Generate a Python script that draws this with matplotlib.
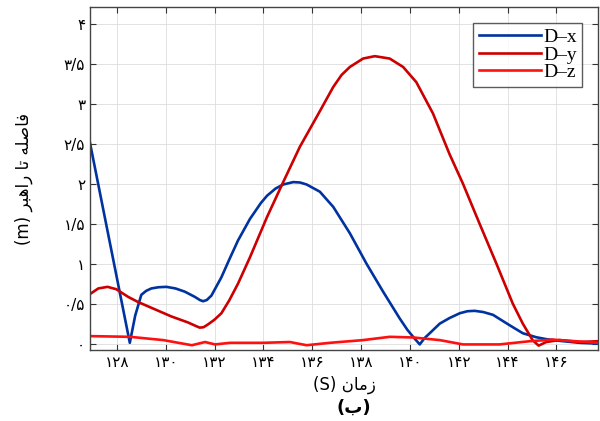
import numpy as np
import matplotlib
matplotlib.use('Agg')
from matplotlib import pyplot as plt
from matplotlib.ticker import FuncFormatter

# D-x (blue)
dx_t = [126.9, 128.53, 128.75, 129.0, 129.2, 129.41, 129.7, 130.03, 130.4, 130.78, 131.19, 131.4,
        131.53, 131.68, 131.87, 132.28, 132.6, 132.96, 133.45, 133.9, 134.15, 134.5,
        134.81, 135.22, 135.5, 135.77, 136.31, 136.86, 137.54, 138.22, 138.9, 139.58, 139.9,
        140.13, 140.4, 140.6, 140.81, 141.22, 141.62, 142.04, 142.35, 142.65, 143.0, 143.4,
        144.08, 144.62, 145.17, 145.6, 146.12, 146.94, 147.7]
dx_v = [2.51, 0.01, 0.35, 0.61, 0.66, 0.69, 0.705, 0.71, 0.69, 0.65, 0.585, 0.545,
        0.53, 0.545, 0.6, 0.83, 1.05, 1.29, 1.56, 1.76, 1.85, 1.94,
        1.99, 2.02, 2.015, 1.99, 1.90, 1.71, 1.38, 1.00, 0.65, 0.315, 0.17,
        0.085, -0.01, 0.07, 0.13, 0.25, 0.32, 0.38, 0.405, 0.41, 0.395, 0.36,
        0.23, 0.13, 0.08, 0.055, 0.035, 0.01, 0.0]

# D-y (dark red)
dy_t = [126.9, 127.24, 127.62, 127.98, 128.46, 128.87, 129.55, 130.23, 130.91, 131.2, 131.39,
        131.55, 131.73, 132.0, 132.28, 132.6, 132.96, 133.45, 134.15, 134.81, 135.49,
        136.18, 136.86, 137.2, 137.54, 138.08, 138.56, 139.17, 139.72, 140.26, 140.94, 141.62,
        142.17, 142.85, 143.54, 144.21, 144.62, 145.03, 145.27, 145.58, 146.12, 146.94, 147.7]
dy_v = [0.62, 0.69, 0.71, 0.68, 0.585, 0.52, 0.43, 0.34, 0.265, 0.225, 0.20,
        0.205, 0.24, 0.3, 0.38, 0.54, 0.75, 1.08, 1.585, 2.02, 2.46,
        2.835, 3.21, 3.36, 3.46, 3.565, 3.595, 3.565, 3.46, 3.27, 2.88, 2.37,
        2.0, 1.50, 1.00, 0.50, 0.25, 0.04, -0.025, 0.02, 0.045, 0.02, 0.03]

# D-z (bright red)
dz_t = [126.9, 128.54, 129.9, 131.07, 131.61, 132.02, 132.63, 133.99, 135.08, 135.77,
        136.72, 138.08, 139.17, 140.13, 141.22, 142.17, 143.67, 144.9, 145.85, 147.7]
dz_v = [0.094, 0.085, 0.044, -0.02, 0.02, -0.01, 0.01, 0.01, 0.02, -0.02,
        0.01, 0.044, 0.085, 0.077, 0.044, -0.01, -0.01, 0.03, 0.05, 0.01]

xticks = np.arange(128, 147, 2)
yticks = np.arange(0, 4.01, 0.5)

fa_digits = str.maketrans('0123456789.', '\u06f0\u06f1\u06f2\u06f3\u06f4\u06f5\u06f6\u06f7\u06f8\u06f9/')

def fa(v, pos=None):
    s = ('%g' % round(v, 2))
    return s.translate(fa_digits)

# shaped persian text, visual order
ylab = '(m) \ufeae\ufe92\ufeeb\ufe8d\ufead \ufe8e\ufe97 \ufeea\ufee0\ufebb\ufe8e\ufed3'
xlab = '(S) \ufee5\ufe8e\ufee3\ufeaf'
sub = '(\ufe8f)'

fig = plt.figure(figsize=(6, 4.21), dpi=100)
ax = fig.add_axes([0.15, 0.1686, 0.8467, 0.8148])

ax.plot(dx_t, dx_v, color='#0033a0', lw=1.9, label='D\u2013x')
ax.plot(dy_t, dy_v, color='#cc0000', lw=1.9, label='D\u2013y')
ax.plot(dz_t, dz_v, color='#ff1010', lw=1.9, label='D\u2013z')

ax.set_xlim(126.9, 147.7)
ax.set_ylim(-0.08, 4.21)
ax.set_xticks(xticks)
ax.set_yticks(yticks)
ax.xaxis.set_major_formatter(FuncFormatter(fa))
ax.yaxis.set_major_formatter(FuncFormatter(fa))
ax.tick_params(direction='in', top=True, right=True, length=4, width=0.8,
               labelsize=11, colors='#333333', labelcolor='black')
ax.grid(True, color='#dddddd', lw=0.6)
for sp in ax.spines.values():
    sp.set_color('#444444')
    sp.set_linewidth(1.0)

ax.set_xlabel(xlab, fontsize=12, labelpad=4)
ax.set_ylabel(ylab, fontsize=12, labelpad=22)
fig.text(0.59, 0.02, sub, fontsize=13, fontweight='bold', ha='center')

leg = ax.legend(loc='upper right', prop={'family': 'Liberation Serif', 'size': 14},
                frameon=True, fancybox=False, edgecolor='#333333', handlelength=3.2,
                handletextpad=0.1, labelspacing=0.0, borderpad=0.3,
                borderaxespad=0.8)
leg.get_frame().set_linewidth(1.0)

fig.savefig('out.png', dpi=100)
